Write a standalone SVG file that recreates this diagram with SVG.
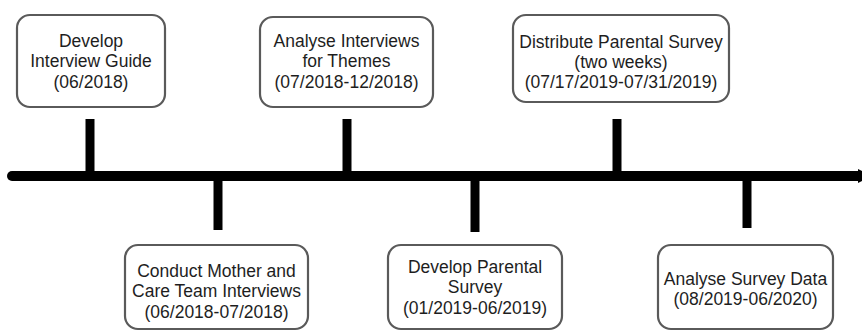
<svg xmlns="http://www.w3.org/2000/svg" width="862" height="331" viewBox="0 0 862 331">
<style>
.box{fill:#fff;stroke:#5a5a5a;stroke-width:2.2}
.t{font-family:"Liberation Sans",Arial,sans-serif;font-size:17.5px;fill:#1e1e1e;text-anchor:middle}
.tick{stroke:#000;stroke-width:9;stroke-linecap:butt}
</style>
<rect width="862" height="331" fill="#fff"/>
<g id="connectors">
<line x1="12" y1="176" x2="862" y2="176" stroke="#000" stroke-width="10" stroke-linecap="round"/>
<polygon points="858,169 862,171 862,181 858,183" fill="#000"/>
<line class="tick" x1="90" y1="119" x2="90" y2="176"/>
<line class="tick" x1="218" y1="176" x2="218" y2="230"/>
<line class="tick" x1="347" y1="119" x2="347" y2="176"/>
<line class="tick" x1="475" y1="176" x2="475" y2="232"/>
<line class="tick" x1="617" y1="119" x2="617" y2="176"/>
<line class="tick" x1="747" y1="176" x2="747" y2="228"/>
</g>
<g id="n1">
<rect class="box" x="17" y="15" width="148" height="92" rx="13"/>
<text class="t" x="91" y="47">Develop</text>
<text class="t" x="91" y="67">Interview Guide</text>
<text class="t" x="91" y="88">(06/2018)</text>
</g>
<g id="n2">
<rect class="box" x="260" y="17" width="173" height="90" rx="13"/>
<text class="t" x="346.5" y="47">Analyse Interviews</text>
<text class="t" x="346.5" y="67">for Themes</text>
<text class="t" x="346.5" y="88">(07/2018-12/2018)</text>
</g>
<g id="n3">
<rect class="box" x="513" y="15" width="216" height="87" rx="13"/>
<text class="t" x="621" y="48">Distribute Parental Survey</text>
<text class="t" x="621" y="68">(two weeks)</text>
<text class="t" x="621" y="88">(07/17/2019-07/31/2019)</text>
</g>
<g id="n4">
<rect class="box" x="125" y="245" width="183" height="84" rx="13"/>
<text class="t" x="216.5" y="277">Conduct Mother and</text>
<text class="t" x="216.5" y="297">Care Team Interviews</text>
<text class="t" x="216.5" y="318">(06/2018-07/2018)</text>
</g>
<g id="n5">
<rect class="box" x="388" y="245" width="174" height="84" rx="13"/>
<text class="t" x="475" y="273">Develop Parental</text>
<text class="t" x="475" y="293">Survey</text>
<text class="t" x="475" y="314">(01/2019-06/2019)</text>
</g>
<g id="n6">
<rect class="box" x="658" y="245" width="175" height="84" rx="13"/>
<text class="t" x="745.5" y="285">Analyse Survey Data</text>
<text class="t" x="745.5" y="305">(08/2019-06/2020)</text>
</g>
</svg>
